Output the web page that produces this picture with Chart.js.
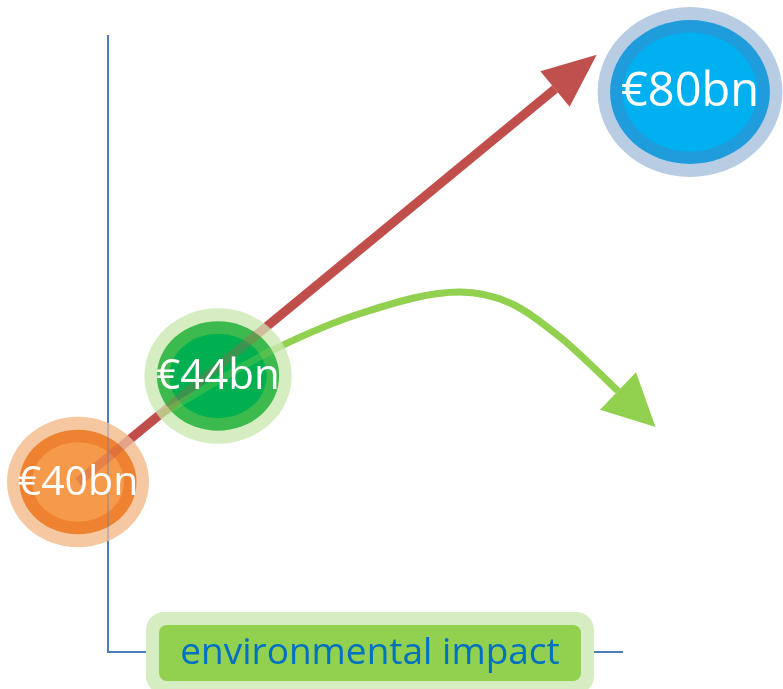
<!DOCTYPE html>
<html lang="en">
<head>
<meta charset="UTF-8">
<title>Cost vs environmental impact</title>
<style>
  html, body { margin: 0; padding: 0; background: #fff; }
  #chart { display: block; }
</style>
</head>
<body>
<canvas id="chart" width="783" height="689"></canvas>
<script src="https://cdn.jsdelivr.net/npm/chart.js"></script>
<script>
// bubbles: value in €bn, placed on the impact (x) / cost (y) plane
const bubbleValues = [40, 44, 80];
const bubbleImpact = [-0.30, 1.10, 5.82];
const bubbleCost = [1.70, 2.76, 5.60];

// straight arrow (business as usual)
const redPathX = [-0.30, 4.47];
const redPathY = [1.70, 5.63];

// curved arrow (lower impact path)
const greenPathX = [0.52, 1.65, 2.57, 3.52, 4.02, 4.52, 4.85, 5.10];
const greenPathY = [2.37, 3.02, 3.40, 3.60, 3.49, 3.15, 2.85, 2.61];

// axis extent and title
const axisTop = 6.17;
const axisEnd = 5.15;
const axisTitle = 'environmental impact';
const axisTitleAt = 2.62;

// outer / ring / fill colours per bubble
const bubbleColors = [
    ['#F5C8A2', '#EE8231', '#F5994A'],
    ['#D5EDC0', '#3DBA4E', '#00B050'],
    ['#B8CCE4', '#1F9CDB', '#00B0F0'],
];

const FONT = '"Open Sans", "Noto Sans", sans-serif';
const AXIS_COLOR = '#4A7EBB';
const RED = '#C0504D';
const GREEN = '#92D050';

function toPoints(xs, ys) {
    return xs.map((v, i) => ({ x: v, y: ys[i] }));
}

function ellipse(ctx, cx, cy, rx, ry, color) {
    ctx.beginPath();
    ctx.ellipse(cx, cy, rx, ry, 0, 0, Math.PI * 2);
    ctx.fillStyle = color;
    ctx.fill();
}

function roundRect(ctx, cx, cy, w, h, r, color) {
    ctx.beginPath();
    ctx.roundRect(cx - w / 2, cy - h / 2, w, h, r);
    ctx.fillStyle = color;
    ctx.fill();
}

function drawAxes(chart, alpha) {
    const { ctx, scales: { x, y } } = chart;
    const x0 = x.getPixelForValue(0), y0 = y.getPixelForValue(0);
    ctx.save();
    ctx.globalAlpha = alpha;
    ctx.strokeStyle = AXIS_COLOR;
    ctx.lineWidth = 2;
    ctx.beginPath();
    ctx.moveTo(x0, y.getPixelForValue(axisTop));
    ctx.lineTo(x0, y0);
    ctx.lineTo(x.getPixelForValue(axisEnd), y0);
    ctx.stroke();
    ctx.restore();
}

// bubble size grows with its value
function bubbles(chart) {
    const meta = chart.getDatasetMeta(2);
    return meta.data.map((pt, i) => {
        const rx = 71 * Math.pow(bubbleValues[i] / 40, 0.38);
        return {
            x: pt.x, y: pt.y, rx: rx, ry: rx * 0.92,
            colors: bubbleColors[i],
            label: '€' + bubbleValues[i] + 'bn',
            font: Math.round(41 * Math.sqrt(rx / 71)),
        };
    });
}

function arrowHead(ctx, baseX, baseY, dx, dy, len, half, color) {
    const d = Math.hypot(dx, dy);
    const ux = dx / d, uy = dy / d;
    ctx.beginPath();
    ctx.moveTo(baseX + ux * len, baseY + uy * len);
    ctx.lineTo(baseX - uy * half, baseY + ux * half);
    ctx.lineTo(baseX + uy * half, baseY - ux * half);
    ctx.closePath();
    ctx.fillStyle = color;
    ctx.fill();
}

const diagram = {
    id: 'diagram',
    beforeDatasetsDraw(chart) {
        drawAxes(chart, 1);
    },
    afterDatasetsDraw(chart) {
        const { ctx, scales: { x, y } } = chart;

        // arrowheads at the ends of both paths
        const red = chart.getDatasetMeta(0).data;
        const r1 = red[red.length - 1], r0 = red[red.length - 2];
        arrowHead(ctx, r1.x, r1.y, r1.x - r0.x, r1.y - r0.y, 54, 23, RED);

        const green = chart.getDatasetMeta(1).data;
        const g1 = green[green.length - 1];
        arrowHead(ctx, g1.x, g1.y, g1.x - g1.cp1x, g1.y - g1.cp1y, 52, 26, GREEN);

        // halo, ring and fill of each bubble
        const list = bubbles(chart);
        list.forEach(b => {
            ellipse(ctx, b.x, b.y, b.rx, b.ry, b.colors[0]);
            ellipse(ctx, b.x, b.y, b.rx - 12.5, b.ry - 13, b.colors[1]);
            ellipse(ctx, b.x, b.y, b.rx - 25, b.ry - 25.5, b.colors[2]);
        });

        // paths and axis showing faintly through the bubbles
        ctx.save();
        ctx.globalAlpha = 0.3;
        chart.getDatasetMeta(0).dataset.draw(ctx, chart.chartArea);
        chart.getDatasetMeta(1).dataset.draw(ctx, chart.chartArea);
        ctx.restore();
        drawAxes(chart, 0.3);

        ctx.save();
        ctx.fillStyle = '#FFFFFF';
        ctx.textAlign = 'center';
        ctx.textBaseline = 'middle';
        list.forEach(b => {
            ctx.font = b.font + 'px ' + FONT;
            ctx.fillText(b.label, b.x, b.y + 1);
        });
        ctx.restore();

        // axis title box
        const tx = x.getPixelForValue(axisTitleAt), ty = y.getPixelForValue(0);
        roundRect(ctx, tx, ty + 1, 448, 82, 18, '#D5EDC0');
        roundRect(ctx, tx, ty + 1, 422, 56, 8, GREEN);
        ctx.save();
        ctx.fillStyle = '#0070C0';
        ctx.textAlign = 'center';
        ctx.textBaseline = 'middle';
        ctx.font = '37px ' + FONT;
        ctx.fillText(axisTitle, tx, ty + 1);
        ctx.restore();
    }
};

new Chart(document.getElementById('chart'), {
    type: 'scatter',
    data: {
        datasets: [
            {
                data: toPoints(redPathX, redPathY),
                showLine: true,
                borderColor: RED,
                borderWidth: 9,
                pointRadius: 0,
            },
            {
                data: toPoints(greenPathX, greenPathY),
                showLine: true,
                cubicInterpolationMode: 'monotone',
                borderColor: GREEN,
                borderWidth: 7,
                pointRadius: 0,
            },
            {
                data: toPoints(bubbleImpact, bubbleCost),
                pointRadius: 0,
            },
        ]
    },
    options: {
        responsive: false,
        animation: false,
        layout: { padding: 0 },
        plugins: { legend: { display: false }, tooltip: { enabled: false } },
        scales: {
            x: { type: 'linear', min: -1.08, max: 6.75, display: false },
            y: { type: 'linear', min: -0.37, max: 6.52, display: false },
        }
    },
    plugins: [diagram]
});
</script>
</body>
</html>
